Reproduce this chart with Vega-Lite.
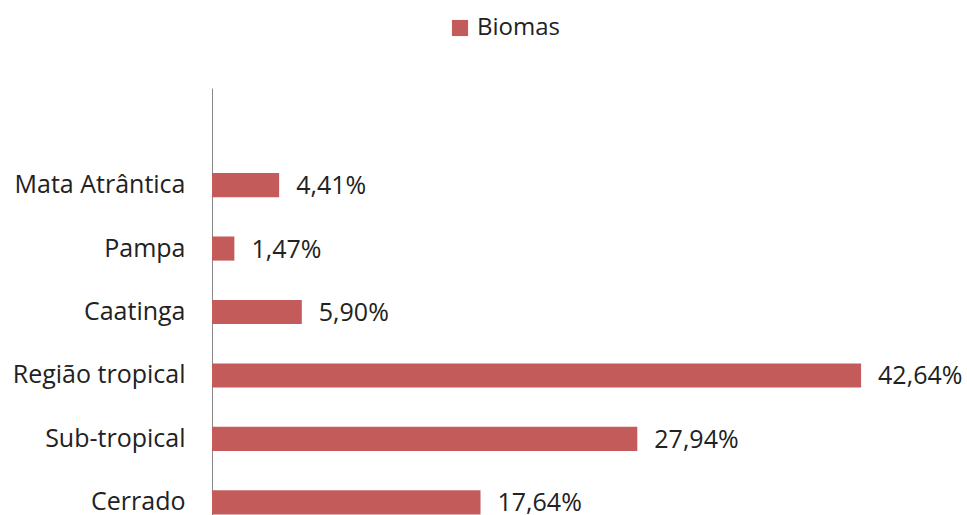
{
  "$schema": "https://vega.github.io/schema/vega-lite/v6.json",
  "autosize": {"type": "none"},
  "width": 685,
  "height": 448,
  "padding": {"left": 212, "top": 88, "right": 70, "bottom": 0},
  "background": "white",
  "config": {"view": {"stroke": null}, "font": "Open Sans"},
  "data": {"values": [
    {"bioma": "Mata Atrântica", "pct": 4.41, "serie": "Biomas"},
    {"bioma": "Pampa", "pct": 1.47, "serie": "Biomas"},
    {"bioma": "Caatinga", "pct": 5.90, "serie": "Biomas"},
    {"bioma": "Região tropical", "pct": 42.64, "serie": "Biomas"},
    {"bioma": "Sub-tropical", "pct": 27.94, "serie": "Biomas"},
    {"bioma": "Cerrado", "pct": 17.64, "serie": "Biomas"}
  ]},
  "encoding": {
    "y": {"field": "bioma", "type": "nominal",
      "scale": {"domain": [" ", "Mata Atrântica", "Pampa", "Caatinga", "Região tropical", "Sub-tropical", "Cerrado"], "paddingInner": 0.62, "paddingOuter": 0.34},
      "axis": {"title": null, "ticks": false, "labelPadding": 27, "labelFontSize": 25, "labelColor": "#222222", "labelFont": "Open Sans", "domainColor": "#888888", "domainWidth": 1, "grid": false}},
    "x": {"field": "pct", "type": "quantitative", "scale": {"domain": [0, 45]}, "axis": null}
  },
  "layer": [
    {"mark": {"type": "bar", "color": "#C45B5B"},
     "encoding": {"color": {"field": "serie", "type": "nominal", "scale": {"range": ["#C45B5B"]},
       "legend": {"title": null, "orient": "none", "legendX": 236, "legendY": -72, "symbolType": "square", "symbolSize": 260, "labelFontSize": 24, "labelColor": "#222222", "labelFont": "Open Sans", "symbolOpacity": 1, "labelOffset": 5}}}},
    {"mark": {"type": "text", "align": "left", "dx": 17, "dy": 1, "fontSize": 25, "color": "#222222", "font": "Open Sans",
      "text": {"expr": "replace(format(datum.pct, '.2f'), '.', ',') + '%'"}}}
  ]
}
